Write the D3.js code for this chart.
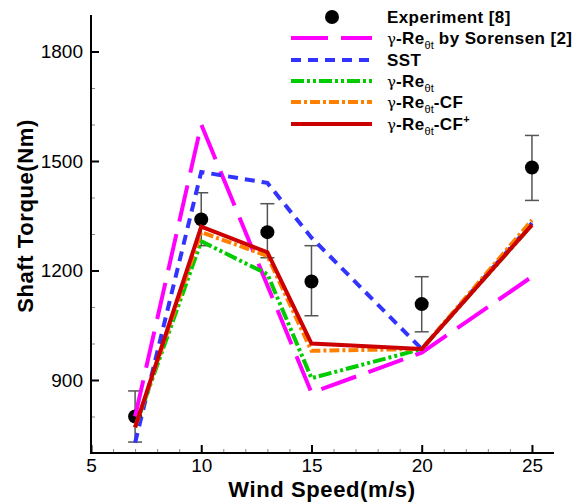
<!DOCTYPE html>
<html>
<head>
<meta charset="utf-8">
<script src="https://cdn.jsdelivr.net/npm/d3@7"></script>
<style>
  body { margin: 0; background: #fff; }
  text { font-family: Arial, "Liberation Sans", sans-serif; }
</style>
</head>
<body>
<svg width="581" height="504"></svg>
<script>
// wind speeds of the experiment and models
var speeds = [7, 10, 13, 15, 20, 25];

// experiment [8], with error bar ends
var expValue = [800, 1340, 1305, 1170, 1108, 1482];
var expHigh  = [870, 1413, 1383, 1268, 1183, 1570];
var expLow   = [730, 1268, 1235, 1076, 1032, 1392];

// Sorensen has no 13 m/s point
var sorSpeeds = [7, 10, 15, 20, 25];
var sorensen  = [800, 1600, 865, 975, 1183];

var sst     = [728, 1470, 1440, 1290, 985, 1330];
var gre     = [770, 1280, 1190, 905, 985, 1325];
var greCF   = [770, 1305, 1240, 980, 985, 1338];
var greCFp  = [770, 1320, 1250, 1000, 985, 1325];

var xTicks = [5, 10, 15, 20, 25];
var yTicks = [900, 1200, 1500, 1800];

var svg = d3.select("svg");

var x = d3.scaleLinear().domain([5, 26]).range([91, 554]),
    y = d3.scaleLinear().domain([700, 1900]).range([453, 15]);

var g = svg.append("g");

//series styles
var series = [
  {name: "sor", xs: sorSpeeds, ys: sorensen, color: "#ff00ff", dash: "37,13"},
  {name: "sst", xs: speeds, ys: sst, color: "#3333ff", dash: "10,7"},
  {name: "gre", xs: speeds, ys: gre, color: "#00cc00", dash: "13,3,3,3,3,3"},
  {name: "cf", xs: speeds, ys: greCF, color: "#ff8000", dash: "10,3,3,3"},
  {name: "cfp", xs: speeds, ys: greCFp, color: "#cc0000", dash: null}
];

var line = d3.line()
  .x(function(d) { return x(d[0]); })
  .y(function(d) { return y(d[1]); });

// error bars
var eb = g.append("g").attr("stroke", "#555").attr("stroke-width", 1.5);
speeds.forEach(function(s, i) {
  eb.append("line").attr("x1", x(s)).attr("x2", x(s)).attr("y1", y(expHigh[i])).attr("y2", y(expLow[i]));
  eb.append("line").attr("x1", x(s) - 7).attr("x2", x(s) + 7).attr("y1", y(expHigh[i])).attr("y2", y(expHigh[i]));
  eb.append("line").attr("x1", x(s) - 7).attr("x2", x(s) + 7).attr("y1", y(expLow[i])).attr("y2", y(expLow[i]));
});

g.selectAll(".dot")
  .data(speeds)
  .enter().append("circle")
  .attr("class", "dot")
  .attr("cx", function(d) { return x(d); })
  .attr("cy", function(d, i) { return y(expValue[i]); })
  .attr("r", 7)
  .attr("fill", "#000");

series.forEach(function(s) {
  g.append("path")
    .datum(s.xs.map(function(v, i) { return [v, s.ys[i]]; }))
    .attr("d", line)
    .attr("fill", "none")
    .attr("stroke", s.color)
    .attr("stroke-width", 4)
    .attr("stroke-dasharray", s.dash);
});

// axes
var xMinor = g.append("g")
  .attr("transform", "translate(0,453)")
  .call(d3.axisBottom(x).tickValues(d3.range(6, 26)).tickSize(-4).tickFormat(""));
xMinor.selectAll(".tick line").attr("stroke", "#888");
var xMajor = g.append("g")
  .attr("transform", "translate(0,453)")
  .call(d3.axisBottom(x).tickValues(xTicks).tickSize(-8).tickPadding(6).tickFormat(d3.format("d")));
xMajor.selectAll(".tick line").attr("stroke-width", 2);
xMajor.selectAll(".tick text").attr("font-size", 19).attr("font-family", "Arial, Liberation Sans, sans-serif").attr("fill", "#000");

var yMinor = g.append("g")
  .attr("transform", "translate(91,0)")
  .call(d3.axisLeft(y).tickValues(d3.range(800, 1900, 100)).tickSize(-4).tickFormat(""));
yMinor.selectAll(".tick line").attr("stroke", "#888");
var yMajor = g.append("g")
  .attr("transform", "translate(91,0)")
  .call(d3.axisLeft(y).tickValues(yTicks).tickSize(-8).tickPadding(8).tickFormat(d3.format("d")));
yMajor.selectAll(".tick line").attr("stroke-width", 2);
yMajor.selectAll(".tick text").attr("font-size", 19).attr("font-family", "Arial, Liberation Sans, sans-serif").attr("fill", "#000");

// axis frames, drawn thick
g.selectAll(".domain").remove();
g.append("line").attr("x1", 91).attr("x2", 91).attr("y1", 15).attr("y2", 454).attr("stroke", "#000").attr("stroke-width", 2);
g.append("line").attr("x1", 90).attr("x2", 554).attr("y1", 453).attr("y2", 453).attr("stroke", "#000").attr("stroke-width", 2);

// axis titles
svg.append("text")
  .attr("x", 322).attr("y", 497)
  .attr("text-anchor", "middle")
  .attr("font-size", 22).attr("font-weight", "bold")
  .attr("letter-spacing", 0.6)
  .text("Wind Speed(m/s)");
svg.append("text")
  .attr("transform", "translate(33,216) rotate(-90)")
  .attr("text-anchor", "middle")
  .attr("font-size", 22).attr("font-weight", "bold")
  .attr("letter-spacing", 0.6)
  .text("Shaft Torque(Nm)");

// legend
var legend = svg.append("g");
var rowY = [17, 38, 60, 81, 102, 124];
legend.append("circle").attr("cx", 332).attr("cy", rowY[0]).attr("r", 7).attr("fill", "#000");
series.forEach(function(s, i) {
  legend.append("line")
    .attr("x1", 291).attr("x2", 372)
    .attr("y1", rowY[i + 1]).attr("y2", rowY[i + 1])
    .attr("stroke", s.color).attr("stroke-width", 4)
    .attr("stroke-dasharray", s.dash);
});

function legendText(t, yy) {
  return t.append("text").attr("x", 387).attr("y", yy + 6)
    .attr("font-size", 17).attr("font-weight", "bold")
    .attr("letter-spacing", 0.4);
}
function gammaLabel(t, yy, tail, sup) {
  var tx = legendText(t, yy);
  tx.append("tspan").attr("font-weight", "normal").attr("font-family", "DejaVu Serif, serif").attr("font-size", 15).attr("letter-spacing", 0).text("γ");
  tx.append("tspan").text("-Re");
  tx.append("tspan").attr("font-size", 11).attr("font-weight", "normal").attr("letter-spacing", 0).attr("dy", 5).text("θt");
  if (tail) tx.append("tspan").attr("dy", -5).text(tail);
  if (sup) tx.append("tspan").attr("font-size", 11).attr("dy", -7).text(sup);
  return tx;
}
legendText(legend, rowY[0]).text("Experiment [8]");
gammaLabel(legend, rowY[1], " by Sorensen [2]");
legendText(legend, rowY[2]).text("SST");
gammaLabel(legend, rowY[3]);
gammaLabel(legend, rowY[4], "-CF");
gammaLabel(legend, rowY[5], "-CF", "+");
</script>
</body>
</html>
